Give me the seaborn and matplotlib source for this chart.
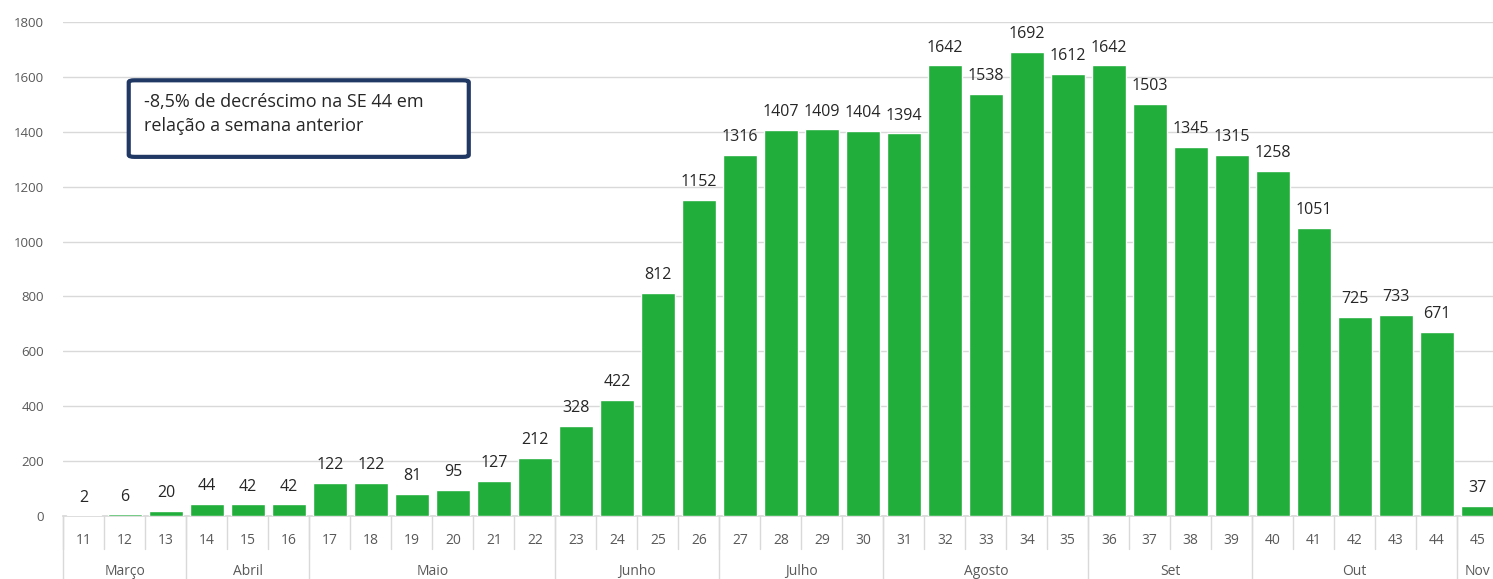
import matplotlib
matplotlib.use("Agg")
import matplotlib.pyplot as plt
import pandas as pd
import seaborn as sns
from matplotlib.patches import FancyBboxPatch

# data
weeks = [str(w) for w in range(11, 46)]
cases = [2, 6, 20, 44, 42, 42, 122, 122, 81, 95, 127, 212, 328, 422, 812, 1152,
         1316, 1407, 1409, 1404, 1394, 1642, 1538, 1692, 1612, 1642, 1503, 1345,
         1315, 1258, 1051, 725, 733, 671, 37]
months = ["Março", "Abril", "Maio", "Junho", "Julho", "Agosto", "Set", "Out", "Nov"]
month_sizes = [3, 3, 6, 4, 4, 5, 4, 5, 1]
note = "-8,5% de decréscimo na SE 44 em\nrelação a semana anterior"

df = pd.DataFrame({"semana": weeks, "casos": cases})

sns.set_theme(style="white")
plt.rcParams["font.family"] = ["Open Sans", "DejaVu Sans"]

grid_c = "#D9D9D9"
text_c = "#595959"

fig = plt.figure(figsize=(14.93, 5.79), dpi=100)
ax = fig.add_axes([0.0425, 0.1088, 0.961, 0.8532])

sns.barplot(data=df, x="semana", y="casos", color="#21AE3A", saturation=1,
            width=0.84, ax=ax, zorder=3)

ax.bar_label(ax.containers[0], fontsize=11.5, color="#262626", padding=7)

ax.set_ylim(0, 1800)
ax.set_xlim(-0.5, len(weeks) - 0.5)
ax.set_yticks(range(0, 1801, 200))
ax.yaxis.grid(True, color=grid_c, lw=1, zorder=0)
ax.tick_params(axis="y", length=0, labelsize=9.5, labelcolor=text_c, pad=14)
ax.tick_params(axis="x", length=0, labelsize=10, labelcolor=text_c, pad=12)
ax.set_xlabel("")
ax.set_ylabel("")
for s in ["top", "right", "left"]:
    ax.spines[s].set_visible(False)
ax.spines["bottom"].set_color(grid_c)

# two-level category axis
trans = ax.get_xaxis_transform()
for i in range(len(weeks) + 1):
    ax.plot([i - 0.5, i - 0.5], [0, -0.066], transform=trans, color=grid_c,
            lw=1, clip_on=False)
start = 0
for name, n in zip(months, month_sizes):
    ax.plot([start - 0.5, start - 0.5], [0, -0.2], transform=trans,
            color=grid_c, lw=1, clip_on=False)
    ax.text(start + (n - 1) / 2, -0.113, name, transform=trans, ha="center",
            va="center", fontsize=10, color=text_c)
    start += n

# annotation box
box = FancyBboxPatch((0.0455, 0.727), 0.237, 0.155, transform=ax.transAxes,
                     boxstyle="round,pad=0,rounding_size=0.004",
                     facecolor="white", edgecolor="#203864", lw=3, zorder=5)
ax.add_patch(box)
ax.text(0.056, 0.814, note, transform=ax.transAxes, ha="left", va="center",
        fontsize=13, color="#262626", linespacing=1.45, zorder=6)

fig.savefig("out.png", dpi=100)
